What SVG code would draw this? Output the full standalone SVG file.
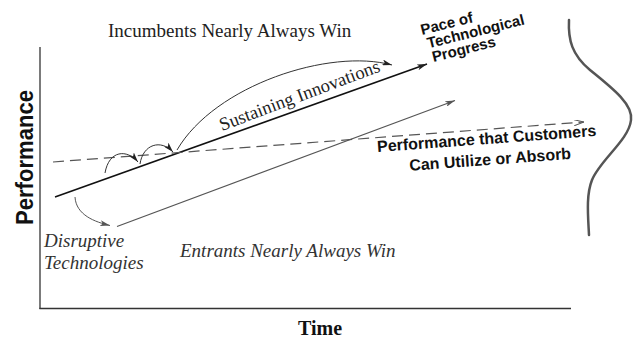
<svg xmlns="http://www.w3.org/2000/svg" width="634" height="339" viewBox="0 0 634 339">
<style>
.serif{font-family:"Liberation Serif","Times New Roman",serif;}
.sans{font-family:"Liberation Sans",Arial,sans-serif;font-weight:bold;fill:#111;}
.it{font-style:italic;fill:#333;}
.conn{fill:none;}
</style>
<defs>
<marker id="ahk" viewBox="0 0 10 6" refX="10" refY="3" markerWidth="10" markerHeight="6" orient="auto" markerUnits="userSpaceOnUse"><path d="M0,0 L10,3 L0,6 L2.5,3 z" fill="#222"/></marker>
<marker id="ahg" viewBox="0 0 10 6" refX="10" refY="3" markerWidth="10" markerHeight="6" orient="auto" markerUnits="userSpaceOnUse"><path d="M0,0 L10,3 L0,6 L2.5,3 z" fill="#555"/></marker>
<marker id="ahd" viewBox="0 0 10 6" refX="10" refY="3" markerWidth="10" markerHeight="6" orient="auto" markerUnits="userSpaceOnUse"><path d="M0,0 L10,3 L0,6" fill="none" stroke="#555" stroke-width="1"/></marker>
</defs>
<rect width="634" height="339" fill="#fff"/>

<g id="axes" fill="none" stroke="#333" stroke-width="1.3">
<line x1="40" y1="47" x2="40" y2="309"/>
<line x1="39.4" y1="308.5" x2="571" y2="308.5"/>
</g>

<g id="boundary">
<path d="M569,20 C568,40 572,55 590,70 C615,90 633,105 631,120 C629,140 600,160 592,180 C586,195 588,215 589,235" fill="none" stroke="#555" stroke-width="2.5" stroke-linecap="round"/>
</g>

<g id="connectors" class="conn">
<line id="pace-line" x1="55" y1="197" x2="427" y2="64" stroke="#111" stroke-width="1.6" marker-end="url(#ahk)"/>
<line id="entrant-line" x1="117" y1="226.5" x2="455" y2="100.5" stroke="#555" stroke-width="1.2" marker-end="url(#ahg)"/>
<line id="customer-line" x1="53" y1="162" x2="584" y2="122" stroke="#555" stroke-width="1.2" stroke-dasharray="11,6" marker-end="url(#ahd)"/>
<path id="hop1" d="M105,173 C109,150 127,149 138,162" stroke="#333" stroke-width="1" fill="none" marker-end="url(#ahk)"/>
<path id="hop2" d="M140,164 C143,144 161,139 173,152" stroke="#333" stroke-width="1" fill="none" marker-end="url(#ahk)"/>
<path id="sustain-arc" d="M177,150 C215,85 330,48 392,65" stroke="#333" stroke-width="1" fill="none" marker-end="url(#ahk)"/>
<path id="disrupt-arc" d="M75,197 C76,215 95,222 110,225.5" stroke="#555" stroke-width="1" fill="none" marker-end="url(#ahg)"/>
</g>

<g id="title-incumbents"><text class="serif" x="108" y="37" font-size="19" fill="#222">Incumbents Nearly Always Win</text></g>

<g id="label-sustaining"><text class="serif" transform="translate(222,131) rotate(-20.6)" font-size="18.5" fill="#222">Sustaining Innovations</text></g>

<g id="label-pace" class="sans" font-size="15" transform="translate(422,35) rotate(-14)">
<text x="0" y="0">Pace of</text>
<text x="3" y="14.5">Technological</text>
<text x="4.5" y="29">Progress</text>
</g>

<g id="label-customers" class="sans" font-size="16" text-anchor="middle" transform="translate(487,144) rotate(-4.2)">
<text x="0" y="0">Performance that Customers</text>
<text x="2" y="21">Can Utilize or Absorb</text>
</g>

<g id="label-disruptive" class="serif it" font-size="19">
<text x="44" y="247">Disruptive</text>
<text x="44" y="269">Technologies</text>
</g>

<g id="label-entrants"><text class="serif it" x="180" y="257" font-size="19">Entrants Nearly Always Win</text></g>

<g id="axis-y-label"><text class="sans" font-size="24" text-anchor="middle" transform="translate(33,157.5) rotate(-90)" textLength="135" lengthAdjust="spacingAndGlyphs">Performance</text></g>

<g id="axis-x-label"><text class="serif" x="320" y="335" font-size="20" font-weight="bold" text-anchor="middle" fill="#111">Time</text></g>
</svg>
